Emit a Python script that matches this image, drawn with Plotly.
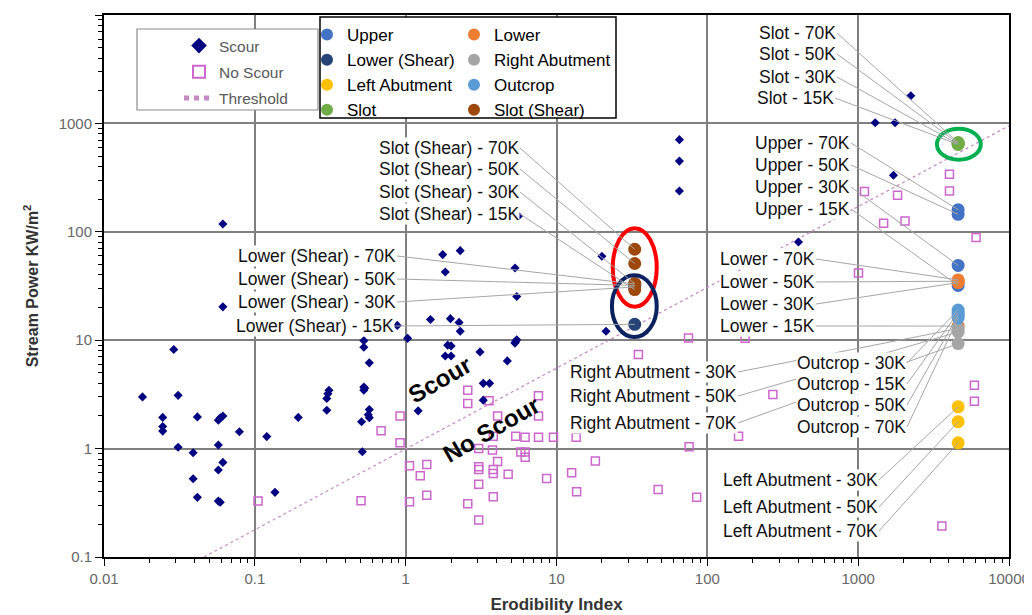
import math
import plotly.graph_objects as go

# ---------------- data ----------------
scour_x = [0.018, 0.029, 0.031, 0.0245, 0.0245, 0.0245, 0.031, 0.0416, 0.039, 0.039, 0.0416,
           0.0573, 0.059, 0.0614, 0.0573, 0.0614, 0.0573, 0.0573, 0.059, 0.079, 0.12, 0.136,
           0.194, 0.30, 0.30, 0.305, 0.31, 0.0614, 0.0614, 0.516, 0.51, 0.574, 0.574, 0.565,
           0.528, 0.528, 0.535, 0.574, 0.528, 0.528, 1.03, 1.21, 1.76, 2.30, 1.83, 5.31, 5.45,
           1.46, 1.98, 2.26, 2.30, 2.0, 1.83, 2.0, 3.11, 4.72, 5.3, 5.45, 5.35, 3.27, 3.6, 3.27,
           20.0, 21.3, 65.3, 65.3, 65.3, 2234, 1297, 1758, 1714, 402, 0.88, 5.6, 1.9]
scour_y = [3.0, 8.2, 3.1, 1.94, 1.6, 1.45, 1.03, 1.96, 0.915, 0.527, 0.355,
           1.83, 1.92, 2.0, 1.08, 0.746, 0.634, 0.328, 0.32, 1.43, 1.29, 0.395,
           1.94, 2.26, 2.9, 3.2, 3.45, 118, 20.3, 0.935, 1.77, 1.93, 2.29, 2.05,
           3.45, 3.7, 3.6, 6.18, 8.6, 9.9, 10.4, 2.23, 61.6, 67, 42.6, 46.4, 25.3,
           15.5, 15.8, 14.6, 12.1, 8.86, 7.16, 7.16, 7.8, 6.44, 9.4, 10.1, 9.6, 4.0, 4.0, 2.8,
           59.4, 12.1, 708, 449, 238, 1800, 1014, 1014, 332, 80.5, 13.7, 140, 9.0]

noscour_x = [0.105, 0.506, 0.687, 0.918, 0.918, 1.06, 1.38, 1.25, 1.38, 1.06, 2.58, 2.58, 3.57,
             7.59, 4.07, 7.6, 3.81, 5.37, 6.19, 7.6, 9.55, 13.5, 3.05, 3.76, 5.8, 6.2, 6.2, 4.07,
             3.05, 3.05, 3.81, 3.81, 4.78, 3.05, 2.58, 3.05, 3.81, 8.6, 12.6, 13.6, 18.1, 47.2,
             75.7, 85, 75, 34.9, 4030, 4030, 1101, 1824, 1475, 2044, 6050, 1005, 178, 272,
             5900, 5900, 161, 3590]
noscour_y = [0.328, 0.33, 1.46, 2.0, 1.13, 0.694, 0.715, 0.561, 0.372, 0.323, 3.46, 2.61, 2.76,
             3.07, 2.0, 2.0, 1.30, 1.30, 1.27, 1.27, 1.27, 1.27, 1.0, 0.97, 0.93, 0.93, 0.83, 0.76,
             0.68, 0.64, 0.64, 0.59, 0.58, 0.47, 0.31, 0.22, 0.36, 0.53, 0.60, 0.40, 0.77, 0.42,
             1.04, 0.355, 10.5, 7.4, 339, 238, 236, 217, 120, 126, 88.5, 41.7, 10.4, 3.16,
             3.85, 2.74, 1.30, 0.193]

threshold_x = [0.046, 10000]
threshold_y = [0.1, 950]

shear_site_x = 33      # erodibility index of the shear-zone sites
rock_site_x = 4600     # erodibility index of the other sites

loads4 = ["15K", "30K", "50K", "70K"]
loads3 = ["30K", "50K", "70K"]
upper_y = [32, 49, 145, 160]
lower_y = [13.5, 34, 35, 36]
lower_shear_y = [14, 31, 32, 33]
right_abut_y = [12.8, 11.9, 9.3]
left_abut_y = [2.43, 1.77, 1.13]
outcrop_y = [18, 19, 17, 16]
slot_y = [640, 645, 655, 665]
slot_shear_y = [29.3, 33.3, 51, 69]

x_tick_vals = [0.01, 0.1, 1, 10, 100, 1000, 10000]
x_tick_text = ["0.01", "0.1", "1", "10", "100", "1000", "10000"]
y_tick_vals = [0.1, 1, 10, 100, 1000, 10000]
y_tick_text = ["0.1", "1", "10", "100", "1000", "10000"]

# ---------------- layout constants (screen pixels) ----------------
OFF = 8                      # page body margin
SW, SH = 1032, 615           # screen size
L, T, RX, BY = 104, 15, 1009, 557   # plot area edges on screen
PW, PH = RX - L, BY - T
W, H = SW - OFF, SH - OFF    # figure size
FONT = "Liberation Sans, Arial, sans-serif"


def to_px(x, y):
    px = L + (math.log10(x) + 2) / 6 * PW
    py = T + (4 - math.log10(y)) / 5 * PH
    return px, py


def pfx(px):
    return (px - L) / PW


def pfy(py):
    return (BY - py) / PH


fig = go.Figure()

fig.add_trace(go.Scatter(x=threshold_x, y=threshold_y, mode="lines", name="Threshold",
                         line=dict(color="#C58AC5", width=1.2, dash="dot"),
                         legend="legend", legendgroup="c", legendrank=3))
fig.add_trace(go.Scatter(x=noscour_x, y=noscour_y, mode="markers", name="No Scour",
                         marker=dict(symbol="square-open", size=8, color="#CC66CC",
                                     line=dict(width=1.5, color="#CC66CC")),
                         legend="legend", legendgroup="b", legendrank=2))
fig.add_trace(go.Scatter(x=scour_x, y=scour_y, mode="markers", name="Scour",
                         marker=dict(symbol="diamond", size=7, color="#000080"),
                         legend="legend", legendgroup="a", legendrank=1))

series = [
    ("Upper", rock_site_x, loads4, upper_y, "#4472C4", "legend2"),
    ("Lower", rock_site_x, loads4, lower_y, "#ED7D31", "legend3"),
    ("Lower (Shear)", shear_site_x, loads4, lower_shear_y, "#264478", "legend2"),
    ("Right Abutment", rock_site_x, loads3, right_abut_y, "#A5A5A5", "legend3"),
    ("Left Abutment", rock_site_x, loads3, left_abut_y, "#FFC000", "legend2"),
    ("Outcrop", rock_site_x, loads4, outcrop_y, "#5B9BD5", "legend3"),
    ("Slot", rock_site_x, loads4, slot_y, "#70AD47", "legend2"),
    ("Slot (Shear)", shear_site_x, loads4, slot_shear_y, "#9E480E", "legend3"),
]
for name, sx, lds, ys, col, lg in series:
    fig.add_trace(go.Scatter(x=[sx] * len(ys), y=ys, mode="markers", name=name,
                             text=lds, marker=dict(symbol="circle", size=13, color=col),
                             legend=lg))

# label positions (right end of text, vertical centre) in screen pixels
label_pos = {
    ("Slot (Shear)", "70K"): (515, 148), ("Slot (Shear)", "50K"): (515, 169),
    ("Slot (Shear)", "30K"): (515, 192), ("Slot (Shear)", "15K"): (515, 214),
    ("Lower (Shear)", "70K"): (392, 256), ("Lower (Shear)", "50K"): (392, 279),
    ("Lower (Shear)", "30K"): (392, 302), ("Lower (Shear)", "15K"): (390, 326),
    ("Right Abutment", "30K"): (733, 372), ("Right Abutment", "50K"): (733, 396),
    ("Right Abutment", "70K"): (733, 423),
    ("Outcrop", "30K"): (902, 363), ("Outcrop", "15K"): (902, 384),
    ("Outcrop", "50K"): (902, 405), ("Outcrop", "70K"): (902, 427),
    ("Lower", "70K"): (811, 259), ("Lower", "50K"): (811, 282),
    ("Lower", "30K"): (811, 304), ("Lower", "15K"): (811, 326),
    ("Upper", "70K"): (846, 143), ("Upper", "50K"): (846, 165),
    ("Upper", "30K"): (846, 187), ("Upper", "15K"): (846, 209),
    ("Slot", "70K"): (832, 33), ("Slot", "50K"): (832, 54),
    ("Slot", "30K"): (832, 77), ("Slot", "15K"): (830, 98),
    ("Left Abutment", "30K"): (874, 480), ("Left Abutment", "50K"): (874, 507),
    ("Left Abutment", "70K"): (874, 531),
}

annotations = []
for name, sx, lds, ys, col, lg in series:
    for ld, yv in zip(lds, ys):
        rx, ry = label_pos[(name, ld)]
        px, py = to_px(sx, yv)
        annotations.append(dict(
            x=math.log10(sx), y=math.log10(yv), xref="x", yref="y",
            text=f"{name} - {ld}", showarrow=True, arrowhead=0, arrowwidth=1,
            arrowcolor="#A6A6A6", ax=rx + 5 - px, ay=ry - py, axref="pixel", ayref="pixel",
            xanchor="right", yanchor="middle", bgcolor="white", borderpad=0,
            font=dict(family=FONT, size=17.5, color="#111111")))

annotations.append(dict(x=math.log10(1.69), y=math.log10(4.3), xref="x", yref="y",
                        text="<b>Scour</b>", showarrow=False, textangle=-30,
                        font=dict(family=FONT, size=24, color="black")))
annotations.append(dict(x=math.log10(3.68), y=math.log10(1.5), xref="x", yref="y",
                        text="<b>No Scour</b>", showarrow=False, textangle=-30,
                        font=dict(family=FONT, size=24, color="black")))

shapes = [
    dict(type="circle", xref="x", yref="y", x0=23.6, x1=46.2, y0=20.3, y1=108,
         line=dict(color="#FF0000", width=4), layer="above"),
    dict(type="circle", xref="x", yref="y", x0=23.3, x1=46.2, y0=10.7, y1=39.7,
         line=dict(color="#0B2160", width=4), layer="above"),
    dict(type="circle", xref="x", yref="y", x0=3327, x1=6500, y0=462, y1=893,
         line=dict(color="#00B050", width=4), layer="above"),
    dict(type="rect", xref="paper", yref="paper",
         x0=pfx(137), x1=pfx(318), y0=pfy(110), y1=pfy(29),
         line=dict(color="#8C8C8C", width=1.2), fillcolor="white", layer="above"),
    dict(type="rect", xref="paper", yref="paper",
         x0=pfx(320), x1=pfx(616), y0=pfy(118), y1=pfy(17),
         line=dict(color="black", width=1.5), fillcolor="white", layer="above"),
]

minor_vals = [k * 10 ** n for n in range(-2, 4) for k in range(2, 10)]
minor_vals_y = [k * 10 ** n for n in range(-1, 4) for k in range(2, 10)]

fig.update_layout(
    width=W, height=H,
    margin=dict(l=L - OFF, r=W - (RX - OFF), t=T - OFF, b=H - (BY - OFF), autoexpand=False),
    paper_bgcolor="white", plot_bgcolor="white",
    font=dict(family=FONT, size=14, color="#595959"),
    showlegend=True,
    legend=dict(x=pfx(179), y=pfy(29), xanchor="left", yanchor="top",
                bgcolor="rgba(0,0,0,0)", borderwidth=0,
                font=dict(family=FONT, size=15.5, color="#595959"), tracegroupgap=3,
                itemsizing="constant"),
    legend2=dict(x=pfx(307), y=pfy(17), xanchor="left", yanchor="top",
                 bgcolor="rgba(0,0,0,0)", borderwidth=0,
                 font=dict(family=FONT, size=17, color="black"), itemsizing="constant"),
    legend3=dict(x=pfx(454), y=pfy(17), xanchor="left", yanchor="top",
                 bgcolor="rgba(0,0,0,0)", borderwidth=0,
                 font=dict(family=FONT, size=17, color="black"), itemsizing="constant"),
    xaxis=dict(type="log", range=[-2, 4], tickvals=x_tick_vals, ticktext=x_tick_text,
               ticks="outside", ticklen=7, tickcolor="black", tickwidth=1.2,
               showgrid=True, gridcolor="#7F7F7F", gridwidth=1.5,
               showline=True, linecolor="black", linewidth=2, mirror=True,
               zeroline=False, tickfont=dict(size=15, color="#666666"),
               minor=dict(tickvals=minor_vals, ticks="outside", ticklen=4,
                          tickcolor="black", showgrid=False),
               title=dict(text="<b>Erodibility Index</b>", standoff=12,
                          font=dict(size=17, color="#333333"))),
    yaxis=dict(type="log", range=[-1, 4], tickvals=y_tick_vals, ticktext=y_tick_text,
               ticks="outside", ticklen=7, tickcolor="black", tickwidth=1.2,
               showgrid=True, gridcolor="#7F7F7F", gridwidth=1.5,
               showline=True, linecolor="black", linewidth=2, mirror=True,
               zeroline=False, tickfont=dict(size=15, color="#666666"),
               minor=dict(tickvals=minor_vals_y, ticks="outside", ticklen=4,
                          tickcolor="black", showgrid=False),
               title=dict(text="<b>Stream Power KW/m<sup>2</sup></b>", standoff=16,
                          font=dict(size=16, color="#333333"))),
    annotations=annotations,
    shapes=shapes,
)

fig.write_html("out.html")
